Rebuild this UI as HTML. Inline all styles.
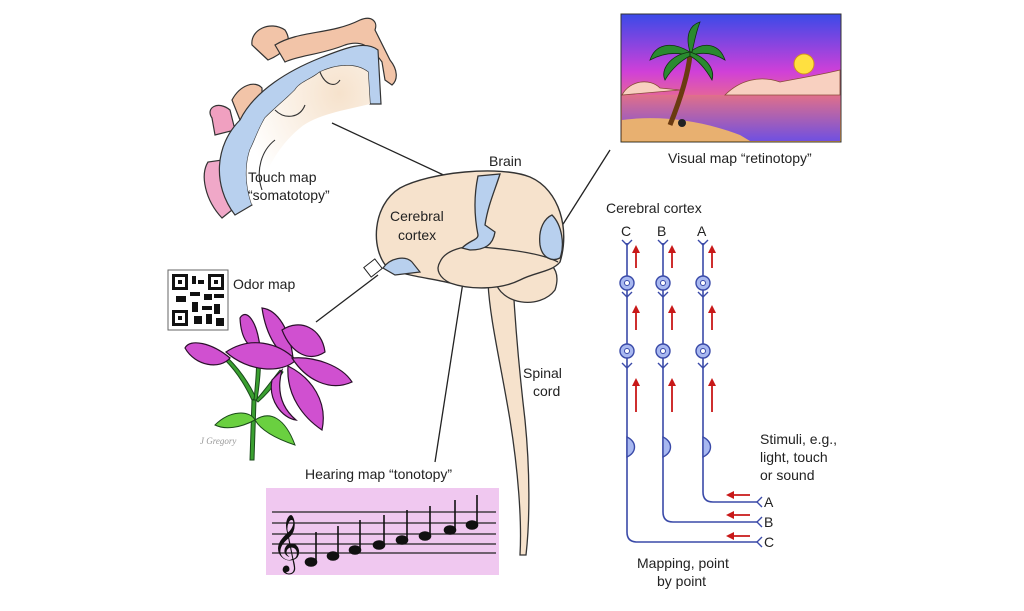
<!DOCTYPE html>
<html><head><meta charset="utf-8"><style>
html,body{margin:0;padding:0;background:#fff;}
svg{display:block;font-family:"Liberation Sans",Arial,sans-serif;}
</style></head><body>
<svg width="1024" height="611" viewBox="0 0 1024 611" xmlns="http://www.w3.org/2000/svg">
<defs>
<linearGradient id="sky" x1="0" y1="0" x2="0" y2="1">
<stop offset="0" stop-color="#3a4ae8"/><stop offset="0.45" stop-color="#d040d8"/><stop offset="0.75" stop-color="#f07878"/><stop offset="1" stop-color="#f8b040"/></linearGradient>
<linearGradient id="sea" x1="0" y1="0" x2="0" y2="1">
<stop offset="0" stop-color="#e0708a"/><stop offset="1" stop-color="#7050e0"/></linearGradient>
<radialGradient id="beige" cx="0.75" cy="0.2" r="0.8">
<stop offset="0" stop-color="#f6e2cc"/><stop offset="1" stop-color="#fff"/></radialGradient>
</defs>
<rect width="1024" height="611" fill="#fff"/>

<!-- Touch map -->
<path d="M252,45 C250,30 270,20 285,30 C295,45 280,55 268,60 Z" fill="#f2c4a8" stroke="#333" stroke-width="1.2"/>
<path d="M275,45 C300,30 330,35 360,20 C372,15 378,22 375,30 L390,60 C398,70 398,80 392,85 L385,80 L382,62 C370,45 360,40 345,45 C320,55 300,55 285,62 Z" fill="#f2c4a8" stroke="#333" stroke-width="1.2"/>
<path d="M232,100 C240,85 255,80 262,88 L262,112 L240,120 Z" fill="#f2c4a8" stroke="#333" stroke-width="1.2"/>
<path d="M212,118 C205,108 218,100 230,110 L235,130 L215,135 Z" fill="#f0a0c0" stroke="#333" stroke-width="1.2"/>
<path d="M208,162 C200,175 205,200 222,218 L232,210 L222,160 Z" fill="#f0a8c8" stroke="#333" stroke-width="1.2"/>
<path d="M235,215 C212,185 215,145 240,120 C255,90 290,70 320,58 C345,48 365,40 378,50 L381,104 L370,104 L368,72 C355,62 335,65 320,72 C310,80 300,82 295,90 C285,100 275,108 265,118 C258,130 255,140 250,150 C245,165 245,185 252,205 Z" fill="#b8d0ee" stroke="#333" stroke-width="1.2"/>
<path d="M252,205 C245,185 245,165 250,150 C255,140 258,130 265,118 C275,108 285,100 295,90 C300,82 310,80 320,72 C335,65 355,62 368,72 L370,104 C345,110 315,115 300,128 C285,140 270,160 262,185 Z" fill="url(#beige)"/>
<path d="M262,190 C255,170 262,150 275,140 M275,110 C285,120 300,118 305,105 M320,72 C325,85 335,88 340,80" fill="none" stroke="#333" stroke-width="1.1"/>
<text x="248" y="182" font-size="14" fill="#222">Touch map</text>
<text x="248" y="200" font-size="14" fill="#222">“somatotopy”</text>

<!-- connector lines -->
<line x1="332" y1="123" x2="480" y2="192" stroke="#222" stroke-width="1.3"/>
<line x1="610" y1="150" x2="553" y2="240" stroke="#222" stroke-width="1.3"/>
<line x1="316" y1="322" x2="378" y2="275" stroke="#222" stroke-width="1.3"/>
<line x1="468" y1="250" x2="435" y2="462" stroke="#222" stroke-width="1.3"/>
<rect x="366" y="262" width="14" height="12" fill="#fff" stroke="#222" transform="rotate(-38 373 268)"/>

<!-- Spinal cord -->
<path d="M488,283 C490,320 500,360 510,420 C518,470 522,520 520,555 L526,555 C530,520 530,470 525,420 C518,360 515,320 513,283 Z" fill="#f6e2cc" stroke="#333" stroke-width="1.3"/>
<path d="M495,280 C500,305 540,310 555,290 C560,275 555,265 545,262 L500,268 Z" fill="#f6e2cc" stroke="#333" stroke-width="1.3"/>
<path d="M388,268 C370,250 372,205 400,188 C430,172 500,165 530,177 C560,190 570,230 560,262 C552,272 535,272 520,280 C500,290 470,290 450,283 C430,278 405,276 388,268 Z" fill="#f6e2cc" stroke="#333" stroke-width="1.4"/>
<path d="M440,262 C445,250 465,245 480,247 C520,250 545,255 558,262" fill="none" stroke="#333" stroke-width="1.3"/>
<path d="M440,262 C435,270 440,278 450,283" fill="none" stroke="#333" stroke-width="1.3"/>
<path d="M478,176 L500,174 C495,190 488,205 485,225 L495,232 C493,245 485,250 470,250 L462,248 C470,240 478,240 478,235 C474,215 474,195 478,176 Z" fill="#b8d0ee" stroke="#333" stroke-width="1.3"/>
<path d="M540,245 C538,228 545,218 552,215 C562,225 565,245 560,258 C552,262 542,258 540,245 Z" fill="#b8d0ee" stroke="#333" stroke-width="1.3"/>
<path d="M383,268 C390,258 405,255 412,262 L420,272 L395,275 Z" fill="#b8d0ee" stroke="#333" stroke-width="1.2"/>
<text x="489" y="166" font-size="14" fill="#222">Brain</text>
<text x="390" y="221" font-size="14" fill="#222">Cerebral</text>
<text x="398" y="240" font-size="14" fill="#222">cortex</text>
<text x="523" y="378" font-size="14" fill="#222">Spinal</text>
<text x="533" y="396" font-size="14" fill="#222">cord</text>

<!-- Visual picture -->
<rect x="621" y="14" width="220" height="128" fill="url(#sky)" stroke="#333"/>
<rect x="622" y="95" width="218" height="46" fill="url(#sea)"/>
<path d="M622,120 C660,115 700,120 740,135 L750,141 L622,141 Z" fill="#e8b070"/>
<path d="M622,95 C630,80 650,78 660,88 L680,90 L622,95 Z M725,95 C740,80 760,75 780,82 C800,78 820,75 840,70 L840,95 Z" fill="#f8d0c0" stroke="#8a4a3a" stroke-width="0.8"/>
<circle cx="804" cy="64" r="10" fill="#ffe040" stroke="#d09020"/>
<path d="M670,125 C680,100 688,75 690,55" stroke="#6a3a10" stroke-width="5" fill="none"/>
<g fill="#2a8a30" stroke="#103010" stroke-width="0.8">
<path d="M690,52 C670,40 655,45 650,60 C665,52 678,52 690,56 Z"/>
<path d="M690,52 C705,40 720,45 725,60 C712,52 700,52 690,56 Z"/>
<path d="M690,52 C685,35 690,25 700,22 C695,35 694,45 692,52 Z"/>
<path d="M690,52 C670,55 660,70 665,80 C672,68 682,60 690,56 Z"/>
<path d="M690,52 C708,58 715,70 712,80 C705,68 698,60 690,56 Z"/>
</g>
<circle cx="682" cy="123" r="4" fill="#222"/>
<text x="668" y="163" font-size="14" fill="#222">Visual map “retinotopy”</text>

<!-- QR -->
<rect x="168" y="270" width="60" height="60" fill="#fff" stroke="#666"/>
<g fill="#111">
<rect x="172" y="274" width="16" height="16"/><rect x="208" y="274" width="16" height="16"/><rect x="172" y="310" width="16" height="16"/>
<rect x="192" y="276" width="4" height="8"/><rect x="198" y="280" width="6" height="4"/><rect x="190" y="292" width="10" height="4"/>
<rect x="204" y="294" width="8" height="6"/><rect x="214" y="294" width="10" height="4"/><rect x="176" y="296" width="10" height="6"/>
<rect x="192" y="302" width="6" height="10"/><rect x="202" y="306" width="10" height="4"/><rect x="214" y="304" width="6" height="10"/>
<rect x="194" y="316" width="8" height="8"/><rect x="206" y="314" width="6" height="10"/><rect x="216" y="318" width="8" height="8"/>
</g>
<rect x="175" y="277" width="10" height="10" fill="#fff"/><rect x="211" y="277" width="10" height="10" fill="#fff"/><rect x="175" y="313" width="10" height="10" fill="#fff"/>
<rect x="178" y="280" width="4" height="4" fill="#111"/><rect x="214" y="280" width="4" height="4" fill="#111"/><rect x="178" y="316" width="4" height="4" fill="#111"/>
<text x="233" y="289" font-size="14" fill="#222">Odor map</text>

<!-- Lily -->
<g stroke="#1a4a1a" stroke-width="1" fill="#3aa030">
<path d="M250,460 L252,400 L256,400 L254,460 Z"/>
<path d="M252,400 C245,385 235,370 225,360 L228,358 C240,370 250,385 256,398 Z"/>
<path d="M254,400 C256,380 258,360 255,340 L259,340 C262,360 260,380 257,400 Z"/>
<path d="M256,400 C265,390 272,380 280,370 L283,372 C275,385 266,395 258,402 Z"/>
<path d="M215,425 C230,410 250,410 255,420 C240,428 225,430 215,425 Z" fill="#6ad040"/>
<path d="M255,420 C270,410 285,418 295,445 C280,440 262,432 255,420 Z" fill="#6ad040"/>
</g>
<g fill="#d050d0" stroke="#2a102a" stroke-width="1.2">
<path d="M185,348 C190,338 212,343 230,358 C220,370 195,366 185,348 Z"/>
<path d="M240,318 C246,308 257,320 260,348 C250,350 241,340 240,318 Z"/>
<path d="M262,308 C278,310 290,330 293,358 C280,358 266,336 262,308 Z"/>
<path d="M226,352 C250,336 278,342 296,360 C282,374 248,372 226,352 Z"/>
<path d="M282,330 C300,318 322,328 325,352 C310,362 292,355 282,330 Z"/>
<path d="M292,358 C315,356 342,366 352,382 C330,392 306,380 292,358 Z"/>
<path d="M288,366 C312,378 328,402 322,430 C304,418 286,396 288,366 Z"/>
<path d="M282,370 C276,392 282,408 296,420 C282,418 268,400 272,380 Z"/>
</g>
<text x="200" y="444" font-size="9" font-style="italic" fill="#999" font-family="Liberation Serif,serif">J Gregory</text>

<!-- Hearing -->
<text x="305" y="479" font-size="14" fill="#222">Hearing map “tonotopy”</text>
<rect x="266" y="488" width="233" height="87" fill="#f0c8f0"/>
<g stroke="#222" stroke-width="1.3">
<line x1="272" y1="512" x2="496" y2="512"/><line x1="272" y1="523" x2="496" y2="523"/><line x1="272" y1="534" x2="496" y2="534"/><line x1="272" y1="544" x2="496" y2="544"/><line x1="272" y1="553" x2="496" y2="553"/>
</g>
<text x="272" y="560" font-size="50" fill="#111" font-family="DejaVu Sans,sans-serif">𝄞</text>
<g fill="#111" stroke="#111" stroke-width="1.6">
<ellipse cx="311" cy="562" rx="5.5" ry="4"/><line x1="316" y1="562" x2="316" y2="532"/>
<ellipse cx="333" cy="556" rx="5.5" ry="4"/><line x1="338" y1="556" x2="338" y2="526"/>
<ellipse cx="355" cy="550" rx="5.5" ry="4"/><line x1="360" y1="550" x2="360" y2="520"/>
<ellipse cx="379" cy="545" rx="5.5" ry="4"/><line x1="384" y1="545" x2="384" y2="515"/>
<ellipse cx="402" cy="540" rx="5.5" ry="4"/><line x1="407" y1="540" x2="407" y2="510"/>
<ellipse cx="425" cy="536" rx="5.5" ry="4"/><line x1="430" y1="536" x2="430" y2="506"/>
<ellipse cx="450" cy="530" rx="5.5" ry="4"/><line x1="455" y1="530" x2="455" y2="500"/>
<ellipse cx="472" cy="525" rx="5.5" ry="4"/><line x1="477" y1="525" x2="477" y2="495"/>
</g>

<!-- neuron diagram -->
<text x="606" y="213" font-size="14" fill="#222">Cerebral cortex</text>
<text x="621" y="236" font-size="14" fill="#222">C</text>
<text x="657" y="236" font-size="14" fill="#222">B</text>
<text x="697" y="236" font-size="14" fill="#222">A</text>
<g fill="none" stroke="#3a4aa8" stroke-width="1.6">
<path d="M627,243 L627,532 Q627,542 637,542 L757,542"/>
<path d="M663,243 L663,512 Q663,522 673,522 L757,522"/>
<path d="M703,243 L703,492 Q703,502 713,502 L757,502"/>
<g stroke-width="1.4">
<path d="M622,240 L627,245 L632,240"/><path d="M658,240 L663,245 L668,240"/><path d="M698,240 L703,245 L708,240"/>
<path d="M622,292 L627,297 L632,292"/><path d="M658,292 L663,297 L668,292"/><path d="M698,292 L703,297 L708,292"/>
<path d="M622,363 L627,368 L632,363"/><path d="M658,363 L663,368 L668,363"/><path d="M698,363 L703,368 L708,363"/>
<path d="M762,497 L757,502 L762,507"/><path d="M762,517 L757,522 L762,527"/><path d="M762,537 L757,542 L762,547"/>
</g>
</g>
<g fill="#a8b8f0" stroke="#3a4aa8" stroke-width="1.4">
<circle cx="627" cy="283" r="7"/><circle cx="663" cy="283" r="7"/><circle cx="703" cy="283" r="7"/>
<circle cx="627" cy="351" r="7"/><circle cx="663" cy="351" r="7"/><circle cx="703" cy="351" r="7"/>
<path d="M627,437 C637,442 637,452 627,457 Z"/><path d="M663,437 C673,442 673,452 663,457 Z"/><path d="M703,437 C713,442 713,452 703,457 Z"/>
</g>
<g fill="#fff" stroke="#3a4aa8" stroke-width="1">
<circle cx="627" cy="283" r="2.5"/><circle cx="663" cy="283" r="2.5"/><circle cx="703" cy="283" r="2.5"/>
<circle cx="627" cy="351" r="2.5"/><circle cx="663" cy="351" r="2.5"/><circle cx="703" cy="351" r="2.5"/>
</g>
<g stroke="#c81818" stroke-width="1.8" fill="#c81818">
<line x1="636" y1="268" x2="636" y2="252"/><line x1="672" y1="268" x2="672" y2="252"/><line x1="712" y1="268" x2="712" y2="252"/>
<line x1="636" y1="330" x2="636" y2="312"/><line x1="672" y1="330" x2="672" y2="312"/><line x1="712" y1="330" x2="712" y2="312"/>
<line x1="636" y1="412" x2="636" y2="385"/><line x1="672" y1="412" x2="672" y2="385"/><line x1="712" y1="412" x2="712" y2="385"/>
<line x1="750" y1="495" x2="733" y2="495"/><line x1="750" y1="515" x2="733" y2="515"/><line x1="750" y1="536" x2="733" y2="536"/>
</g>
<g fill="#c81818">
<path d="M632,253 L636,245 L640,253 Z"/><path d="M668,253 L672,245 L676,253 Z"/><path d="M708,253 L712,245 L716,253 Z"/>
<path d="M632,313 L636,305 L640,313 Z"/><path d="M668,313 L672,305 L676,313 Z"/><path d="M708,313 L712,305 L716,313 Z"/>
<path d="M632,386 L636,378 L640,386 Z"/><path d="M668,386 L672,378 L676,386 Z"/><path d="M708,386 L712,378 L716,386 Z"/>
<path d="M734,491 L726,495 L734,499 Z"/><path d="M734,511 L726,515 L734,519 Z"/><path d="M734,532 L726,536 L734,540 Z"/>
</g>
<text x="764" y="507" font-size="14" fill="#222">A</text>
<text x="764" y="527" font-size="14" fill="#222">B</text>
<text x="764" y="547" font-size="14" fill="#222">C</text>
<text x="760" y="444" font-size="14" fill="#222">Stimuli, e.g.,</text>
<text x="760" y="462" font-size="14" fill="#222">light, touch</text>
<text x="760" y="480" font-size="14" fill="#222">or sound</text>
<text x="637" y="568" font-size="14" fill="#222">Mapping, point</text>
<text x="657" y="586" font-size="14" fill="#222">by point</text>
</svg>
</body></html>
